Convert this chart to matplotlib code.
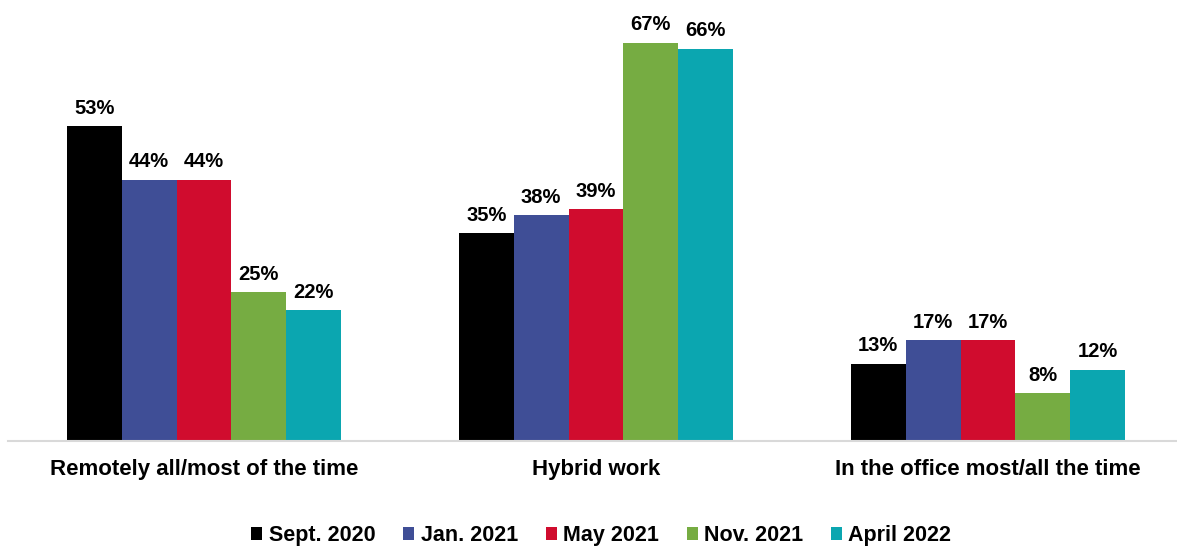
import numpy as np
import matplotlib.pyplot as plt

plt.rcParams['font.family'] = ['Liberation Sans', 'DejaVu Sans']
plt.rcParams['font.weight'] = 'bold'

categories = ['Remotely all/most of the time', 'Hybrid work', 'In the office most/all the time']
waves = ['Sept. 2020', 'Jan. 2021', 'May 2021', 'Nov. 2021', 'April 2022']
values = {
    'Sept. 2020': [53, 35, 13],
    'Jan. 2021': [44, 38, 17],
    'May 2021': [44, 39, 17],
    'Nov. 2021': [25, 67, 8],
    'April 2022': [22, 66, 12],
}
colors = ['#000000', '#3F4E96', '#D00C2E', '#76AC42', '#0BA6B0']

fig = plt.figure(figsize=(11.77, 5.48), dpi=100)
ax = fig.add_axes([8 / 1177, 107 / 548, 1176 / 1177, 416 / 548])

x = np.arange(len(categories))
width = 0.14
for i, (wave, col) in enumerate(zip(waves, colors)):
    pos = x + (i - 2) * width
    bars = ax.bar(pos, values[wave], width, color=col, label=wave, zorder=2)
    for b, v in zip(bars, values[wave]):
        ax.annotate(f'{v}%', (b.get_x() + b.get_width() / 2, v),
                    xytext=(0, 6), textcoords='offset points',
                    ha='center', va='bottom', fontsize=14.5, fontweight='bold')

ax.set_xlim(-0.5, 2.5)
ax.set_ylim(0, 70)
ax.set_yticks([])
ax.set_xticks(x)
ax.set_xticklabels(categories, fontsize=16, fontweight='bold')
ax.tick_params(axis='x', length=0, pad=13)
for s in ['top', 'right', 'left']:
    ax.spines[s].set_visible(False)
ax.spines['bottom'].set_color('#D9D9D9')
ax.spines['bottom'].set_linewidth(1.5)

fig.legend(loc='center', bbox_to_anchor=(0.511, 0.022), ncol=5, frameon=False,
           handlelength=0.5, handleheight=0.55, handletextpad=0.3,
           columnspacing=1.3, prop={'weight': 'bold', 'size': 15.5})

fig.savefig('out.png', dpi=100)
